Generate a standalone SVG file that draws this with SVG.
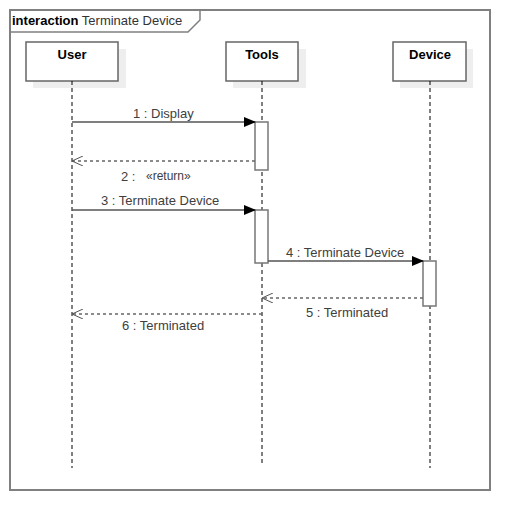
<svg xmlns="http://www.w3.org/2000/svg" width="530" height="530" viewBox="0 0 530 530">
<defs>
<marker id="filled" markerWidth="12" markerHeight="10" refX="11" refY="5" orient="auto" markerUnits="userSpaceOnUse">
<path d="M0,0 L12,5 L0,10 Z" fill="#000"/>
</marker>
<marker id="open" markerWidth="12" markerHeight="10" refX="11" refY="5" orient="auto" markerUnits="userSpaceOnUse">
<path d="M0,0 L11,5 L0,10" fill="none" stroke="#555" stroke-width="1"/>
</marker>
</defs>
<style>
text{font-family:"Liberation Sans",Arial,sans-serif;font-size:13px;fill:#404040}
.frame{fill:none;stroke:#808080;stroke-width:2}
.head{fill:#fff;stroke:#666;stroke-width:1.5}
.shadow{fill:#eeeeee}
.title{font-weight:bold;fill:#000;text-anchor:middle}
.life{stroke:#000;stroke-width:1;stroke-dasharray:4,3}
.act{fill:#fff;stroke:#777;stroke-width:1.5}
.msg{stroke:#555;stroke-width:1.3;fill:none}
.ret{stroke:#666;stroke-width:1.3;fill:none;stroke-dasharray:3,3}
</style>
<rect x="0" y="0" width="530" height="530" fill="#fff"/>
<g id="frame">
<rect class="frame" x="10" y="10" width="480" height="480"/>
<path d="M10,32 L188,32 L200,20 L200,10" fill="none" stroke="#808080" stroke-width="1.5"/>
<text x="12" y="25" style="fill:#000"><tspan font-weight="bold">interaction</tspan><tspan fill="#333"> Terminate Device</tspan></text>
</g>
<g id="user">
<rect class="shadow" x="33" y="49" width="93" height="39"/>
<rect class="head" x="26" y="42" width="92" height="39"/>
<text class="title" x="72" y="59">User</text>
<line class="life" x1="72" y1="81" x2="72" y2="468"/>
</g>
<g id="tools">
<rect class="shadow" x="233" y="49" width="73" height="39"/>
<rect class="head" x="226" y="42" width="72" height="39"/>
<text class="title" x="262" y="59">Tools</text>
<line class="life" x1="262" y1="81" x2="262" y2="464"/>
<rect class="act" x="255" y="122" width="13" height="48"/>
<rect class="act" x="255" y="210" width="13" height="53"/>
</g>
<g id="device">
<rect class="shadow" x="400" y="49" width="73" height="39"/>
<rect class="head" x="393" y="42" width="73" height="39"/>
<text class="title" x="430" y="59">Device</text>
<line class="life" x1="430" y1="81" x2="430" y2="468"/>
<rect class="act" x="423" y="261" width="13" height="45"/>
</g>
<g id="connectors">
<line class="msg" x1="72" y1="122" x2="255" y2="122" marker-end="url(#filled)"/>
<text x="133" y="118">1 : Display</text>
<line class="ret" x1="255" y1="161" x2="72" y2="161" marker-end="url(#open)"/>
<text x="121" y="181">2 :</text>
<text x="146" y="180" style="font-size:12px">«return»</text>
<line class="msg" x1="72" y1="210" x2="255" y2="210" marker-end="url(#filled)"/>
<text x="101" y="205">3 : Terminate Device</text>
<line class="msg" x1="268" y1="261" x2="423" y2="261" marker-end="url(#filled)"/>
<text x="286" y="257">4 : Terminate Device</text>
<line class="ret" x1="423" y1="298" x2="262" y2="298" marker-end="url(#open)"/>
<text x="306" y="317">5 : Terminated</text>
<line class="ret" x1="262" y1="314" x2="72" y2="314" marker-end="url(#open)"/>
<text x="122" y="330">6 : Terminated</text>
</g>
</svg>
